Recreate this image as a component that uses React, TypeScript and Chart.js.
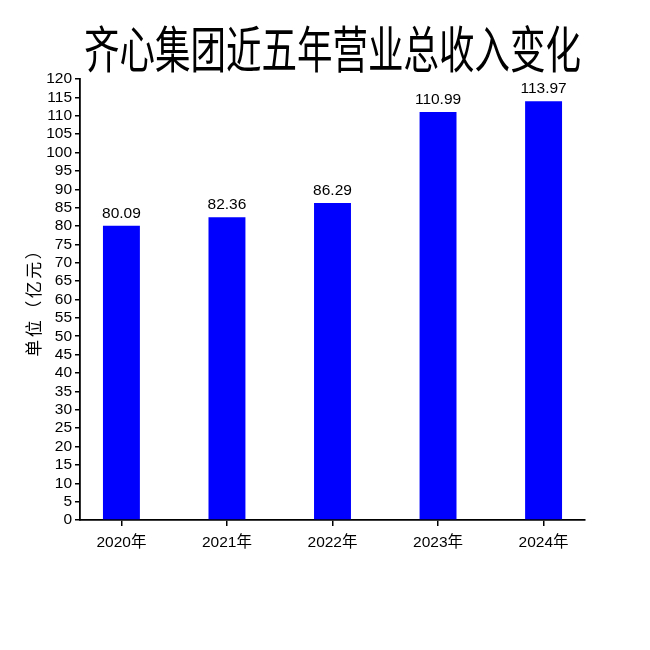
import React, { useEffect, useRef } from "react";
import { Chart, registerables } from "chart.js";

Chart.register(...registerables);

const chartTitle = "齐心集团近五年营业总收入变化";
const yAxisTitle = "单位（亿元）";
const categories = ["2020年", "2021年", "2022年", "2023年", "2024年"];
const revenue = [80.09, 82.36, 86.29, 110.99, 113.97];
const valueLabels = ["80.09", "82.36", "86.29", "110.99", "113.97"];
const yMin = 0;
const yMax = 120;
const yStep = 5;

const FONT = '"Liberation Sans", "Noto Sans CJK SC", Arial, sans-serif';

const titlePlugin = {
  id: "squeezedTitle",
  afterDraw(chart: any) {
    const { ctx, chartArea } = chart;
    const cx = (chartArea.left + chartArea.right) / 2;
    ctx.save();
    ctx.fillStyle = "#000";
    ctx.font = `50px ${FONT}`;
    ctx.textAlign = "center";
    ctx.textBaseline = "alphabetic";
    ctx.translate(cx, 68);
    ctx.scale(0.71, 1);
    ctx.fillText(chartTitle, 0, 0);
    ctx.restore();

    // y-axis title, rotated, slightly letter-spaced
    const cy = (chartArea.top + chartArea.bottom) / 2;
    ctx.save();
    ctx.fillStyle = "#000";
    ctx.font = `17px ${FONT}`;
    (ctx as any).letterSpacing = "2.5px";
    ctx.textAlign = "center";
    ctx.textBaseline = "middle";
    ctx.translate(35.5, cy);
    ctx.rotate(-Math.PI / 2);
    ctx.fillText(yAxisTitle, 1.25, 0);
    ctx.restore();
  },
};

const valueLabelPlugin = {
  id: "valueLabels",
  afterDatasetsDraw(chart: any) {
    const { ctx } = chart;
    const meta = chart.getDatasetMeta(0);
    ctx.save();
    ctx.fillStyle = "#000";
    ctx.font = `15.5px ${FONT}`;
    ctx.textAlign = "center";
    ctx.textBaseline = "alphabetic";
    meta.data.forEach((el: any, i: number) => {
      ctx.fillText(valueLabels[i], el.x, el.y - 8);
    });
    ctx.restore();
  },
};

export default function App() {
  const ref = useRef<HTMLCanvasElement | null>(null);

  useEffect(() => {
    if (!ref.current) return;
    const chart = new Chart(ref.current, {
      type: "bar",
      data: {
        datasets: [
          {
            data: revenue.map((v, i) => ({ x: i, y: v })),
            backgroundColor: "#0000FF",
            borderWidth: 0,
            categoryPercentage: 1,
            barPercentage: 0.35,
          },
        ],
      },
      options: {
        animation: false,
        responsive: false,
        devicePixelRatio: 1,
        layout: { padding: { top: 79, right: 65, left: 0, bottom: 0 } },
        plugins: {
          legend: { display: false },
          tooltip: { enabled: false },
          title: { display: false },
        },
        scales: {
          x: {
            type: "linear",
            offset: false,
            min: -0.3925,
            max: 4.3925,
            afterBuildTicks: (scale: any) => {
              scale.ticks = categories.map((_, i) => ({ value: i }));
            },
            afterFit: (scale: any) => {
              scale.height = 130;
            },
            ticks: {
              autoSkip: false,
              maxRotation: 0,
              color: "#000",
              font: { family: FONT, size: 15.5 },
              padding: 7,
              callback: (v: any) => categories[v] ?? "",
            },
            grid: {
              offset: false,
              drawOnChartArea: false,
              drawTicks: true,
              tickLength: 6,
              color: "#000",
              lineWidth: 1.5,
            },
            border: { display: true, color: "#000", width: 1.8 },
          },
          y: {
            type: "linear",
            min: yMin,
            max: yMax,
            afterFit: (scale: any) => {
              scale.width = 80;
            },
            ticks: {
              stepSize: yStep,
              autoSkip: false,
              color: "#000",
              font: { family: FONT, size: 15.5 },
              padding: 3,
            },
            grid: {
              drawOnChartArea: false,
              drawTicks: true,
              tickLength: 5,
              color: "#000",
              lineWidth: 1.5,
            },
            border: { display: true, color: "#000", width: 1.8 },
            title: { display: false },
          },
        },
      },
      plugins: [titlePlugin, valueLabelPlugin],
    });
    return () => chart.destroy();
  }, []);

  return (
    <div style={{ position: "absolute", left: 0, top: 0, width: 650, height: 650, background: "#fff" }}>
      <canvas ref={ref} width={650} height={650} style={{ display: "block" }} />
    </div>
  );
}
